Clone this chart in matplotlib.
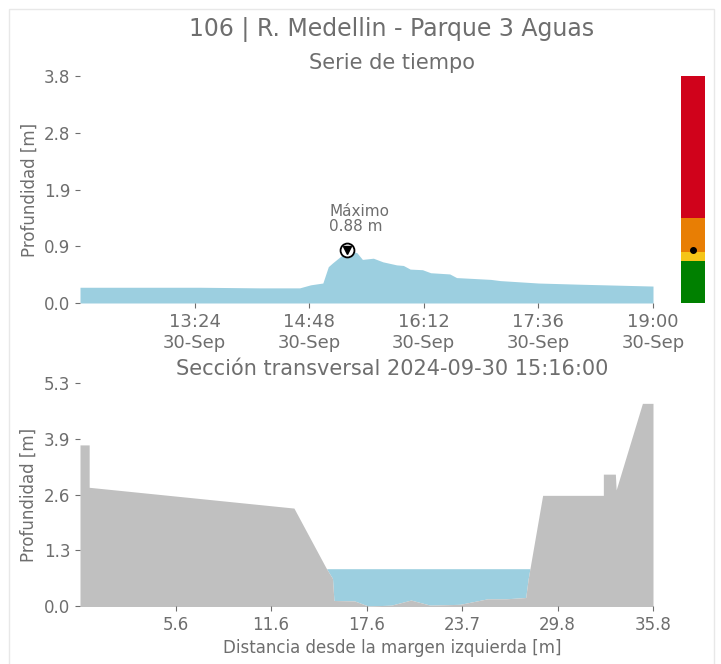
import numpy as np
import pandas as pd
import matplotlib
matplotlib.use("Agg")
import matplotlib.pyplot as plt
import matplotlib.dates as mdates
from matplotlib.ticker import FixedLocator, FormatStrFormatter

# --- serie de tiempo (profundidad medida) ---
horas = ["12:00", "13:28", "14:12", "14:41", "14:49", "14:58", "15:02", "15:05",
         "15:11", "15:16", "15:23", "15:27", "15:35", "15:42", "15:52", "15:57",
         "16:02", "16:11", "16:17", "16:31", "16:36", "17:01", "17:08", "17:36",
         "18:07", "19:00"]
profundidad = [0.26, 0.26, 0.25, 0.25, 0.30, 0.33, 0.60, 0.66,
               0.77, 0.88, 0.83, 0.72, 0.74, 0.68, 0.63, 0.62,
               0.56, 0.55, 0.50, 0.48, 0.42, 0.39, 0.37, 0.33,
               0.31, 0.28]
hora_max = "15:16"
valor_max = 0.88

# umbrales de alerta
umbrales = [0.0, 0.70, 0.85, 1.40, 3.75]
colores_alerta = ["#008000", "#f5c518", "#e87e04", "#d0021b"]

# --- seccion transversal ---
distancia = [-0.44, 0.14, 0.14, 13.09, 15.12, 15.53, 15.62, 16.92, 17.79, 19.25,
             20.49, 21.71, 23.60, 25.34, 26.50, 27.75, 27.90, 28.82, 32.66, 32.66,
             33.42, 33.47, 35.13, 35.80]
lecho = [3.80, 3.80, 2.80, 2.31, 0.90, 0.65, 0.13, 0.12, 0.0, 0.02,
         0.14, 0.02, 0.04, 0.17, 0.17, 0.20, 0.63, 2.61, 2.61, 3.11,
         3.11, 2.74, 4.78, 4.78]
nivel = 0.88
xticklab_sec = ["5.6", "11.6", "17.6", "23.7", "29.8", "35.8"]

gris = "#6e6e6e"
azul = "#9ccfe0"

t = pd.to_datetime(["2024-09-30 " + h for h in horas])
tmax = pd.to_datetime("2024-09-30 " + hora_max)

W, H = 721, 664
xc = 392 / W                 # centro comun de los titulos
xc_ax = (392 - 80) / 573     # mismo centro en fraccion del eje

fig = plt.figure(figsize=(W/100, H/100), dpi=100)
fig.suptitle("106 | R. Medellin - Parque 3 Aguas", fontsize=17, color=gris,
             x=xc, y=1-17/H)

# borde claro de la figura
fig.add_artist(plt.Rectangle((9/W, -0.1), 705/W, 1.1 - 9/H, transform=fig.transFigure,
                             fill=False, edgecolor="#e8e8e8", lw=1))

ax1 = fig.add_axes([80/W, 1-303/H, 573/W, 227/H])
ax1.fill_between(t, 0, profundidad, color=azul, lw=0)
ax1.plot([tmax], [valor_max], "o", ms=10, mfc="white", mec="black", mew=1.3)
ax1.plot([tmax], [valor_max], "v", ms=5.5, color="black")
ax1.annotate("Máximo\n%.2f m" % valor_max, (tmax, valor_max), xytext=(-13, 11),
             textcoords="offset points", ha="left", va="bottom", fontsize=11,
             color=gris, linespacing=1.0)
ymax1 = 3.75
ax1.set_ylim(0, ymax1)
ax1.set_xlim(t[0], t[-1])
ax1.yaxis.set_major_locator(FixedLocator(np.linspace(0, ymax1, 5)))
ax1.yaxis.set_major_formatter(FormatStrFormatter("%.1f"))
xt = pd.date_range(t[0], t[-1], periods=6)[1:]
ax1.set_xticks(xt)
ax1.xaxis.set_major_formatter(mdates.DateFormatter("%H:%M\n%d-%b"))
ax1.set_ylabel("Profundidad [m]", fontsize=12, color=gris)
ax1.set_title("Serie de tiempo", fontsize=15, color=gris, pad=5, x=xc_ax)

# barra de alertas
axb = fig.add_axes([681/W, 1-303/H, 24/W, 227/H])
for i in range(len(colores_alerta)):
    axb.bar(0.5, umbrales[i+1]-umbrales[i], bottom=umbrales[i], width=1,
            color=colores_alerta[i], lw=0)
axb.plot(0.5, valor_max, "o", color="black", ms=4)
axb.set_xlim(0, 1)
axb.set_ylim(0, ymax1)
axb.axis("off")

ax2 = fig.add_axes([80/W, 1-606/H, 573/W, 223/H])
d = np.array(distancia)
z = np.array(lecho)
ax2.fill_between(d, z, nivel, where=z < nivel, color=azul, lw=0, interpolate=True)
ax2.fill_between(d, -0.05, z, color="#c0c0c0", lw=0)
ymax2 = 5.26
ax2.set_ylim(0, ymax2)
ax2.set_xlim(d[0], d[-1])
ax2.yaxis.set_major_locator(FixedLocator(np.linspace(0, ymax2, 5)))
ax2.yaxis.set_major_formatter(FormatStrFormatter("%.1f"))
ax2.set_xticks(np.linspace(d[0], d[-1], 7)[1:])
ax2.set_xticklabels(xticklab_sec)
ax2.set_ylabel("Profundidad [m]", fontsize=12, color=gris)
ax2.set_xlabel("Distancia desde la margen izquierda [m]", fontsize=12, color=gris,
               labelpad=4, x=xc_ax)
ax2.set_title("Sección transversal 2024-09-30 %s:00" % hora_max, fontsize=15,
              color=gris, pad=6, x=xc_ax)

for ax in (ax1, ax2):
    for s in ax.spines.values():
        s.set_visible(False)
    ax.tick_params(colors=gris, labelsize=12, length=3.5, width=0.8)
ax1.tick_params(axis="x", labelsize=13)

fig.savefig("out.png", dpi=100)
